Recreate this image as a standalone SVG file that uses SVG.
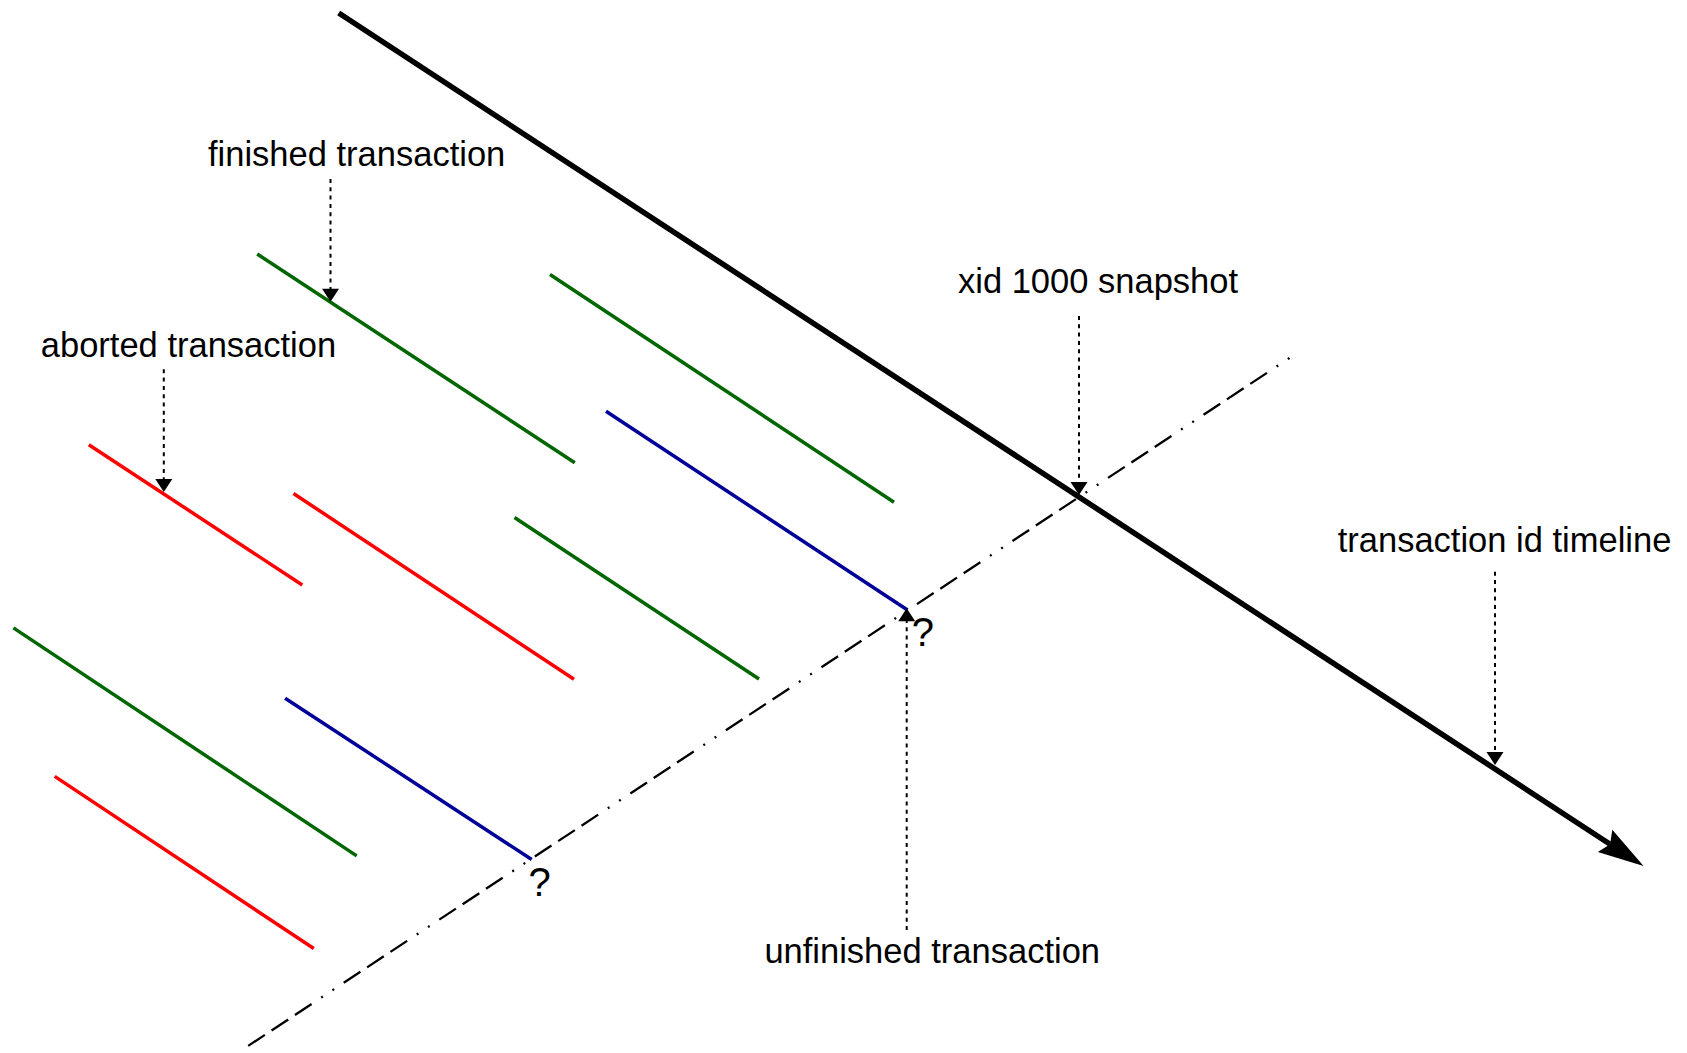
<svg xmlns="http://www.w3.org/2000/svg" width="1687" height="1053" viewBox="0 0 1687 1053">
<style>
.lbl{font-family:"Liberation Sans",Arial,sans-serif;font-size:34.5px;fill:#000}
.q{font-family:"Liberation Sans",Arial,sans-serif;font-size:40px;fill:#000}
.tx{fill:none;stroke-width:3.5;stroke-linecap:butt}
.g{stroke:#006600}
.r{stroke:#FF0000}
.b{stroke:#000099}
.dot{fill:none;stroke:#000;stroke-width:2;stroke-dasharray:4 4.3;marker-end:url(#small)}
</style>
<defs>
<marker id="small" markerUnits="userSpaceOnUse" markerWidth="14" markerHeight="18" refX="10" refY="8.5" orient="auto" overflow="visible">
<path d="M0,0 L13,8.5 L0,17 Z" fill="#000"/>
</marker>
<marker id="big" markerUnits="userSpaceOnUse" markerWidth="48" markerHeight="28" refX="6" refY="13.2" orient="auto" overflow="visible">
<path d="M0,0 L46,13.2 L0,26.4 L6,13.2 Z" fill="#000"/>
</marker>
</defs>
<g id="timeline">
<path d="M338.7,13 L1610.1,844.2" fill="none" stroke="#000" stroke-width="5.5" marker-end="url(#big)"/>
</g>
<g id="snapshot-line">
<path d="M1289.5,358 L245,1048" fill="none" stroke="#000" stroke-width="2.3" stroke-dasharray="2 11.5 2 11.5 20 8 20 8 20 11.5"/>
</g>
<g id="transactions">
<line id="green1" class="tx g" x1="257.2" y1="254" x2="574.8" y2="462.7"/>
<line id="green2" class="tx g" x1="550" y1="274.5" x2="894" y2="502.3"/>
<line id="green3" class="tx g" x1="514.5" y1="517.5" x2="759" y2="679"/>
<line id="green4" class="tx g" x1="13.4" y1="627.9" x2="356.7" y2="855.9"/>
<line id="red1" class="tx r" x1="88.8" y1="444.7" x2="302.3" y2="585"/>
<line id="red2" class="tx r" x1="293.5" y1="493.5" x2="574" y2="679.3"/>
<line id="red3" class="tx r" x1="54.7" y1="776.4" x2="313.8" y2="948.5"/>
<line id="blue1" class="tx b" x1="285.1" y1="698.2" x2="531.7" y2="859.5"/>
<line id="blue2" class="tx b" x1="606" y1="411.3" x2="907.5" y2="610"/>
</g>
<g id="connectors">
<line class="dot" x1="330.5" y1="179" x2="330.5" y2="298.7"/>
<line class="dot" x1="163.8" y1="369.3" x2="163.8" y2="489"/>
<line class="dot" x1="1079" y1="316" x2="1079" y2="492"/>
<line class="dot" x1="1495" y1="571.7" x2="1495" y2="762"/>
<line class="dot" x1="906.7" y1="930" x2="906.7" y2="611.3"/>
</g>
<g id="label-finished"><text class="lbl" x="208" y="166">finished transaction</text></g>
<g id="label-aborted"><text class="lbl" x="40.8" y="357.3">aborted transaction</text></g>
<g id="label-xid"><text class="lbl" x="958" y="293.3">xid 1000 snapshot</text></g>
<g id="label-timeline"><text class="lbl" x="1337.7" y="552.3">transaction id timeline</text></g>
<g id="label-unfinished"><text class="lbl" x="764.4" y="963.3">unfinished transaction</text></g>
<g id="q1"><text class="q" x="528.5" y="895.5">?</text></g>
<g id="q2"><text class="q" x="911.7" y="646">?</text></g>
</svg>
